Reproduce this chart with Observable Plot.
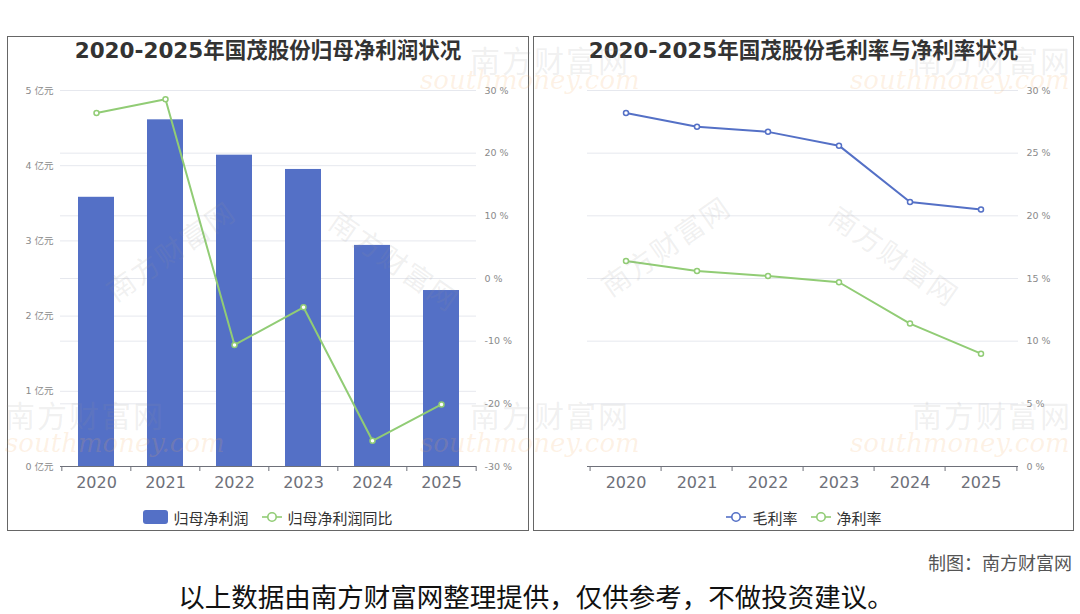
<!DOCTYPE html>
<html><head><meta charset="utf-8">
<script src="https://cdn.jsdelivr.net/npm/d3@7"></script>
<script src="https://cdn.jsdelivr.net/npm/@observablehq/plot@0.6"></script>
<style>
body{margin:0;background:#fff;font-family:"Noto Sans CJK SC","Noto Sans",sans-serif;}
#root{position:relative;width:1080px;height:614px;overflow:hidden;background:#fff}
.panel{position:absolute;top:36px;height:495px;border:1px solid #666;box-sizing:border-box;background:#fff}
.chart{position:absolute;top:36px}
.title{position:absolute;top:36px;height:30px;line-height:30px;font-weight:bold;font-size:21.5px;color:#333;text-align:center;white-space:nowrap;font-family:"DejaVu Sans","Noto Sans CJK SC",sans-serif}
.legend{position:absolute;top:506px;height:22px;display:flex;justify-content:center;align-items:center;font-size:15px;color:#333;gap:0}
.legend .item{display:flex;align-items:center;margin:0 6px}
.legend svg{margin-right:5px}
.wm{position:absolute;pointer-events:none;white-space:nowrap;z-index:5}
.wmc{font-size:30px;color:rgba(150,150,150,0.14);letter-spacing:2px}
.wme{font-size:26px;font-style:italic;color:rgba(245,170,90,0.16);font-family:"DejaVu Serif",serif}
</style></head>
<body><div id="root"></div>
<script>
const years = ["2020","2021","2022","2023","2024","2025"];
const netProfit = [3.58, 4.61, 4.14, 3.95, 2.94, 2.34];          // 亿元
const netProfitYoY = [26.4, 28.6, -10.6, -4.6, -25.9, -20.1];    // %
const grossMargin = [28.2, 27.1, 26.7, 25.6, 21.1, 20.5];        // %
const netMargin = [16.4, 15.6, 15.2, 14.7, 11.4, 9.0];           // %
const leftTicks = [0,1,2,3,4,5];
const pctTicksLeft = [-30,-20,-10,0,10,20,30];
const pctTicksRight = [0,5,10,15,20,25,30];

const title1 = "2020-2025年国茂股份归母净利润状况";
const title2 = "2020-2025年国茂股份毛利率与净利率状况";
const legend1 = ["归母净利润","归母净利润同比"];
const legend2 = ["毛利率","净利率"];
const credit = "制图：南方财富网";
const disclaimer = "以上数据由南方财富网整理提供，仅供参考，不做投资建议。";

const BLUE = "#5470c6", GREEN = "#91cc75", AXIS = "#6e7079", GRID = "#e6e8ee", LBL = "#8a8a8a";
const FONT = '"DejaVu Sans","Noto Sans CJK SC",sans-serif';
const root = document.getElementById("root");

function el(tag, cls, style, text){const e=document.createElement(tag); if(cls) e.className=cls; if(style) Object.assign(e.style,style); if(text!=null) e.textContent=text; root.appendChild(e); return e;}

// panels
el("div","panel",{left:"7px",width:"522px"});
el("div","panel",{left:"533px",width:"541px"});

// left chart: dual axis (亿元 left, % right)
const toY = p => (p + 30) / 60 * 5;
const fromY = v => Math.round(v / 5 * 60 - 30);
const rows1 = years.map((y,i)=>({year:y, profit:netProfit[i], yoy:netProfitYoY[i]}));
const W1 = 522, ML1 = 53, MR1 = 53;
const bw1 = (W1-ML1-MR1)/years.length;
const chart1 = Plot.plot({
  width: W1, height: 470, marginLeft: ML1, marginRight: MR1, marginTop: 54, marginBottom: 40,
  style:{background:"transparent", fontFamily:FONT},
  x:{type:"band", domain: years, paddingInner:0.48, paddingOuter:0.24, axis:null, label:null},
  y:{domain:[0,5], axis:null, label:null},
  marks:[
    Plot.ruleY(leftTicks.filter(d=>d>0), {stroke:GRID, strokeWidth:1}),
    Plot.ruleY(pctTicksLeft.filter(d=>d>-30).map(toY), {stroke:GRID, strokeWidth:1}),
    Plot.barY(rows1, {x:"year", y:"profit", fill:BLUE}),
    Plot.ruleY([0], {stroke:AXIS, strokeWidth:1}),
    Plot.axisX({tickSize:0, tickPadding:10, fontSize:16, fill:AXIS, label:null}),
    Plot.axisX({tickSize:5, tickFormat:()=>"", stroke:AXIS, dx:-bw1/2, label:null}),
    Plot.axisX([years[years.length-1]], {tickSize:5, tickFormat:()=>"", stroke:AXIS, dx:bw1/2, label:null}),
    Plot.axisY(leftTicks, {anchor:"left", tickSize:0, tickPadding:7, fontSize:9.5, fill:LBL, tickFormat:d=>d+" 亿元", label:null}),
    Plot.axisY(pctTicksLeft.map(toY), {anchor:"right", tickSize:0, tickPadding:8, fontSize:9.5, fill:LBL, tickFormat:v=>fromY(v)+" %", label:null}),
    Plot.line(rows1, {x:"year", y:d=>toY(d.yoy), stroke:GREEN, strokeWidth:2}),
    Plot.dot(rows1, {x:"year", y:d=>toY(d.yoy), r:2.5, fill:"#fff", stroke:GREEN, strokeWidth:1.5})
  ]
});
chart1.classList.add("chart"); chart1.style.left = "7px"; root.appendChild(chart1);

// right chart
const rows2 = years.flatMap((y,i)=>[{year:y, s:legend2[0], v:grossMargin[i]},{year:y, s:legend2[1], v:netMargin[i]}]);
const W2 = 541, ML2 = 54, MR2 = 56;
const bw2 = (W2-ML2-MR2)/years.length;
const chart2 = Plot.plot({
  width: W2, height: 470, marginLeft: ML2, marginRight: MR2, marginTop: 54, marginBottom: 40,
  style:{background:"transparent", fontFamily:FONT},
  x:{type:"band", domain: years, padding:0, axis:null, label:null},
  y:{domain:[0,30], axis:null, label:null},
  color:{domain:legend2, range:[BLUE, GREEN]},
  marks:[
    Plot.ruleY(pctTicksRight.filter(d=>d>0), {stroke:GRID, strokeWidth:1}),
    Plot.ruleY([0], {stroke:AXIS, strokeWidth:1}),
    Plot.axisX({tickSize:0, tickPadding:10, fontSize:16, fill:AXIS, label:null}),
    Plot.axisX({tickSize:5, tickFormat:()=>"", stroke:AXIS, dx:-bw2/2, label:null}),
    Plot.axisX([years[years.length-1]], {tickSize:5, tickFormat:()=>"", stroke:AXIS, dx:bw2/2, label:null}),
    Plot.axisY(pctTicksRight, {anchor:"right", tickSize:0, tickPadding:8, fontSize:9.5, fill:LBL, tickFormat:d=>d+" %", label:null}),
    Plot.line(rows2, {x:"year", y:"v", z:"s", stroke:"s", strokeWidth:2}),
    Plot.dot(rows2, {x:"year", y:"v", stroke:"s", r:2.5, fill:"#fff", strokeWidth:1.5})
  ]
});
chart2.classList.add("chart"); chart2.style.left = "533px"; root.appendChild(chart2);

// titles
el("div","title",{left:"7px",width:"522px"}, title1);
el("div","title",{left:"533px",width:"541px"}, title2);

// legends
function lineSym(c){return `<svg width="22" height="14"><line x1="1" y1="7" x2="21" y2="7" stroke="${c}" stroke-width="1.6"/><circle cx="11" cy="7" r="4.2" fill="#fff" stroke="${c}" stroke-width="1.6"/></svg>`;}
const lg1 = el("div","legend",{left:"7px",width:"522px"});
lg1.innerHTML = `<span class="item"><svg width="25" height="14"><rect x="0" y="0" width="25" height="14" rx="3" fill="${BLUE}"/></svg>${legend1[0]}</span><span class="item">${lineSym(GREEN)}${legend1[1]}</span>`;
const lg2 = el("div","legend",{left:"533px",width:"541px"});
lg2.innerHTML = `<span class="item">${lineSym(BLUE)}${legend2[0]}</span><span class="item">${lineSym(GREEN)}${legend2[1]}</span>`;

// footer
el("div",null,{position:"absolute",right:"8px",top:"549px",fontSize:"18px",lineHeight:"26px",color:"#555"}, credit);
el("div",null,{position:"absolute",left:"0",width:"1072px",textAlign:"center",top:"578px",height:"36px",lineHeight:"36px",fontSize:"26.5px",color:"#111",whiteSpace:"nowrap"}, disclaimer);

// watermarks
const wmC = [[5,392],[470,392],[912,392],[470,37],[912,37]];
wmC.forEach(([x,y])=>el("div","wm wmc",{left:x+"px",top:y+"px"},"南方财富网"));
const wmE = [[5,428],[420,428],[850,428],[420,65],[850,65]];
wmE.forEach(([x,y])=>el("div","wm wme",{left:x+"px",top:y+"px"},"southmoney.com"));
const wmR = [[95,230,-35],[320,240,35],[590,225,-35],[820,235,35]];
wmR.forEach(([x,y,a])=>el("div","wm wmc",{left:x+"px",top:y+"px",transform:`rotate(${a}deg)`,fontSize:"28px"},"南方财富网"));
</script></body></html>
